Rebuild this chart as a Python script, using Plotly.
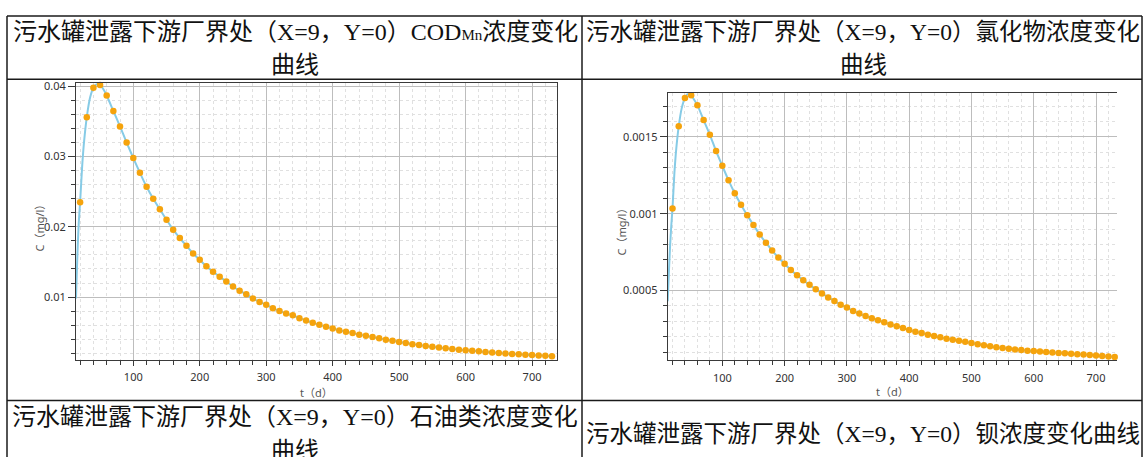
import plotly.graph_objects as go

W, H = 1146, 457

# ---------------- data ----------------
t_marks = list(range(20, 740, 10))  # 20 .. 730 d

cod_marks = [
    0.0235, 0.0356, 0.0398, 0.0402, 0.0387, 0.0365, 0.0343, 0.0320, 0.0298, 0.0277,
    0.0257, 0.0240, 0.0225, 0.0210, 0.0196, 0.0184, 0.0173, 0.0162, 0.0153, 0.0144,
    0.0136, 0.0129, 0.0122, 0.0115, 0.0109, 0.0104, 0.0098, 0.0093, 0.0089, 0.0084,
    0.00803, 0.00765, 0.0074, 0.0070, 0.00666, 0.00634, 0.00606, 0.00577, 0.00554, 0.00525,
    0.00507, 0.00487, 0.00465, 0.00451, 0.00430, 0.00412, 0.00394, 0.00378, 0.00360, 0.00345,
    0.00330, 0.00316, 0.00303, 0.00292, 0.00281, 0.00270, 0.00260, 0.00251, 0.00243, 0.00235,
    0.00227, 0.00219, 0.00210, 0.00203, 0.00197, 0.00191, 0.00185, 0.00179, 0.00174, 0.00169,
    0.00164, 0.00157,
]

cl_marks = [
    0.001034, 0.001568, 0.001753, 0.001770, 0.001706, 0.001609, 0.001513, 0.001407, 0.001311, 0.001217,
    0.001133, 0.001058, 0.000989, 0.000927, 0.000865, 0.000811, 0.000760, 0.000715, 0.000674, 0.000633,
    0.000599, 0.000567, 0.000537, 0.000509, 0.000481, 0.000455, 0.000432, 0.000408, 0.000389, 0.000367,
    0.000350, 0.000334, 0.000320, 0.000307, 0.000294, 0.000279, 0.000268, 0.000256, 0.000243, 0.000232,
    0.000223, 0.000213, 0.000204, 0.000196, 0.000187, 0.000180, 0.000173, 0.000167, 0.000159, 0.000151,
    0.000144, 0.000137, 0.000131, 0.000126, 0.000121, 0.000117, 0.000113, 0.000109, 0.000106, 0.000103,
    0.000100, 0.000097, 0.000094, 0.000092, 0.000089, 0.000086, 0.000084, 0.000081, 0.000078, 0.000074,
    0.000071, 0.000068,
]

# early part of the continuous curves (denser than the markers)
cod_head_t = [13.8, 15, 16.5, 18, 20, 23, 26, 30, 35, 40, 45, 50, 55]
cod_head_c = [0.0098, 0.0135, 0.0175, 0.0207, 0.0235, 0.0285, 0.0322, 0.0356, 0.0384, 0.0398, 0.0403, 0.0402, 0.0396]
cl_head_t = [12.3, 14, 16, 18, 20, 23, 26, 30, 35, 40, 45, 50, 55]
cl_head_c = [0.00043, 0.00060, 0.00078, 0.00092, 0.001034, 0.00126, 0.00142, 0.001568, 0.00169, 0.001753, 0.00178, 0.00177, 0.00174]

titles_top = ["污水罐泄露下游厂界处（X=9，Y=0）COD<span style='font-size:15px'>Mn</span>浓度变化",
              "污水罐泄露下游厂界处（X=9，Y=0）氯化物浓度变化"]
title_line2 = "曲线"
titles_bottom = ["污水罐泄露下游厂界处（X=9，Y=0）石油类浓度变化",
                 "污水罐泄露下游厂界处（X=9，Y=0）钡浓度变化曲线"]
x_title = "t（d）"
y_title = "C（mg/l）"

# ---------------- build lines from the arrays ----------------
cod_line_t = cod_head_t + [t for t in t_marks if t >= 60]
cod_line_c = cod_head_c + [c for t, c in zip(t_marks, cod_marks) if t >= 60]
cl_line_t = cl_head_t + [t for t in t_marks if t >= 60]
cl_line_c = cl_head_c + [c for t, c in zip(t_marks, cl_marks) if t >= 60]

LINE = "#86cbe6"
ORANGE = "#f5a30c"


def px(x):
    return x / W


def py(y):
    return 1 - y / H


fig = go.Figure()
for xa, ya, lt, lc, mc in [("x", "y", cod_line_t, cod_line_c, cod_marks),
                           ("x2", "y2", cl_line_t, cl_line_c, cl_marks)]:
    fig.add_trace(go.Scatter(x=lt, y=lc, mode="lines", xaxis=xa, yaxis=ya,
                             line=dict(color=LINE, width=2, shape="spline", smoothing=0.6),
                             showlegend=False, hoverinfo="skip"))
    fig.add_trace(go.Scatter(x=t_marks, y=mc, mode="markers", xaxis=xa, yaxis=ya,
                             marker=dict(color=ORANGE, size=6.5, line=dict(width=0)),
                             cliponaxis=False, showlegend=False))

tickfont = dict(family="Noto Sans, Open Sans, sans-serif", size=11, color="#333333")
MAJOR_GRID = "#bdbdbd"
MINOR_GRID = "#e0e0e0"
AX = "#3a3a3a"


def xaxis(domain, rng, anchor, mirror):
    return dict(domain=domain, range=rng, anchor=anchor, dtick=100, tick0=0,
                showline=True, linecolor=AX, linewidth=1, mirror=mirror,
                ticks="outside", ticklen=5, tickcolor=AX, tickfont=tickfont,
                ticklabelstandoff=2,
                showgrid=True, gridcolor=MAJOR_GRID, gridwidth=1, zeroline=False,
                minor=dict(dtick=20, tick0=0, ticks="outside", ticklen=4, tickcolor=AX,
                           showgrid=True, gridcolor=MINOR_GRID, griddash="dot", gridwidth=1))


def yaxis(domain, rng, anchor, dtick, mdtick, mirror):
    return dict(domain=domain, range=rng, anchor=anchor, dtick=dtick, tick0=0,
                showline=True, linecolor=AX, linewidth=1, mirror=mirror,
                ticks="outside", ticklen=7, tickcolor=AX, tickfont=tickfont,
                showgrid=True, gridcolor=MAJOR_GRID, gridwidth=1, zeroline=False,
                minor=dict(dtick=mdtick, tick0=0, ticks="outside", ticklen=4, tickcolor=AX,
                           showgrid=True, gridcolor=MINOR_GRID, griddash="dot", gridwidth=1))


# plot-area pixel boxes
L1, R1, T1, B1 = 76, 556.7, 79, 358.5
L2, R2, T2, B2 = 667.7, 1116.7, 89.3, 359.3

fig.update_layout(
    width=W, height=H, margin=dict(l=0, r=0, t=0, b=0),
    paper_bgcolor="white", plot_bgcolor="white",
    xaxis=xaxis([px(L1), px(R1)], [13.8, 737.1], "y", True),
    yaxis=yaxis([py(B1), py(T1)], [0.00110, 0.04046], "x", 0.01, 0.002, True),
    xaxis2=xaxis([px(L2), px(R2)], [12.3, 733.2], "y2", True),
    yaxis2=yaxis([py(B2), py(T2)], [0.0000457, 0.001783], "x2", 0.0005, 0.0001, False),
)

# ---------------- table lines ----------------
TL, TR, TT, TB = 7, 1142, 11, 457
MIDX, ROW1, ROW2 = 582, 75, 400
shapes = []


def seg(x0, y0, x1, y1):
    shapes.append(dict(type="line", xref="paper", yref="paper",
                       x0=px(x0), y0=py(y0), x1=px(x1), y1=py(y1),
                       line=dict(color="#1a1a1a", width=1.5)))


seg(TL, TT, TR, TT)
seg(TL, ROW1, TR, ROW1)
seg(TL, ROW2, TR, ROW2)
seg(TL, TT, TL, TB)
seg(TR, TT, TR, TB)
seg(MIDX, TT, MIDX, TB)
fig.update_layout(shapes=shapes)

# ---------------- text ----------------
hfont_l = dict(family="Liberation Serif, Noto Sans CJK SC, serif", size=24, color="#111111")
hfont_r = dict(family="Liberation Serif, Noto Sans CJK SC, serif", size=23.5, color="#111111")
afont = dict(family="Noto Sans, Noto Sans CJK SC, sans-serif", size=11, color="#555555")
ann = []
cx = [(TL + MIDX) / 2 + 0.5, (MIDX + TR) / 2 + 1]
fonts = [hfont_l, hfont_r]
for i in range(2):
    ann.append(dict(x=px(cx[i]), y=py(27), text=titles_top[i], font=fonts[i]))
    ann.append(dict(x=px(cx[i]), y=py(61), text=title_line2, font=fonts[i]))
ann.append(dict(x=px(cx[0]), y=py(417), text=titles_bottom[0], font=hfont_l))
ann.append(dict(x=px(cx[0]), y=py(451), text=title_line2, font=hfont_l))
ann.append(dict(x=px(cx[1]), y=py(434), text=titles_bottom[1], font=hfont_r))
# axis titles
ann.append(dict(x=px((L1 + R1) / 2), y=py(392), text=x_title, font=afont))
ann.append(dict(x=px((L2 + R2) / 2), y=py(391), text=x_title, font=afont))
ann.append(dict(x=px(40), y=py(223), text=y_title, font=afont, textangle=-90))
ann.append(dict(x=px(622), y=py(227), text=y_title, font=afont, textangle=-90))
for a in ann:
    a.update(xref="paper", yref="paper", showarrow=False, xanchor="center", yanchor="middle")
fig.update_layout(annotations=ann)

fig.write_html("out.html",
               config={"displayModeBar": False},
               post_script="document.body.style.margin='0';document.body.style.padding='0';"
                           "document.body.style.overflow='hidden';")
